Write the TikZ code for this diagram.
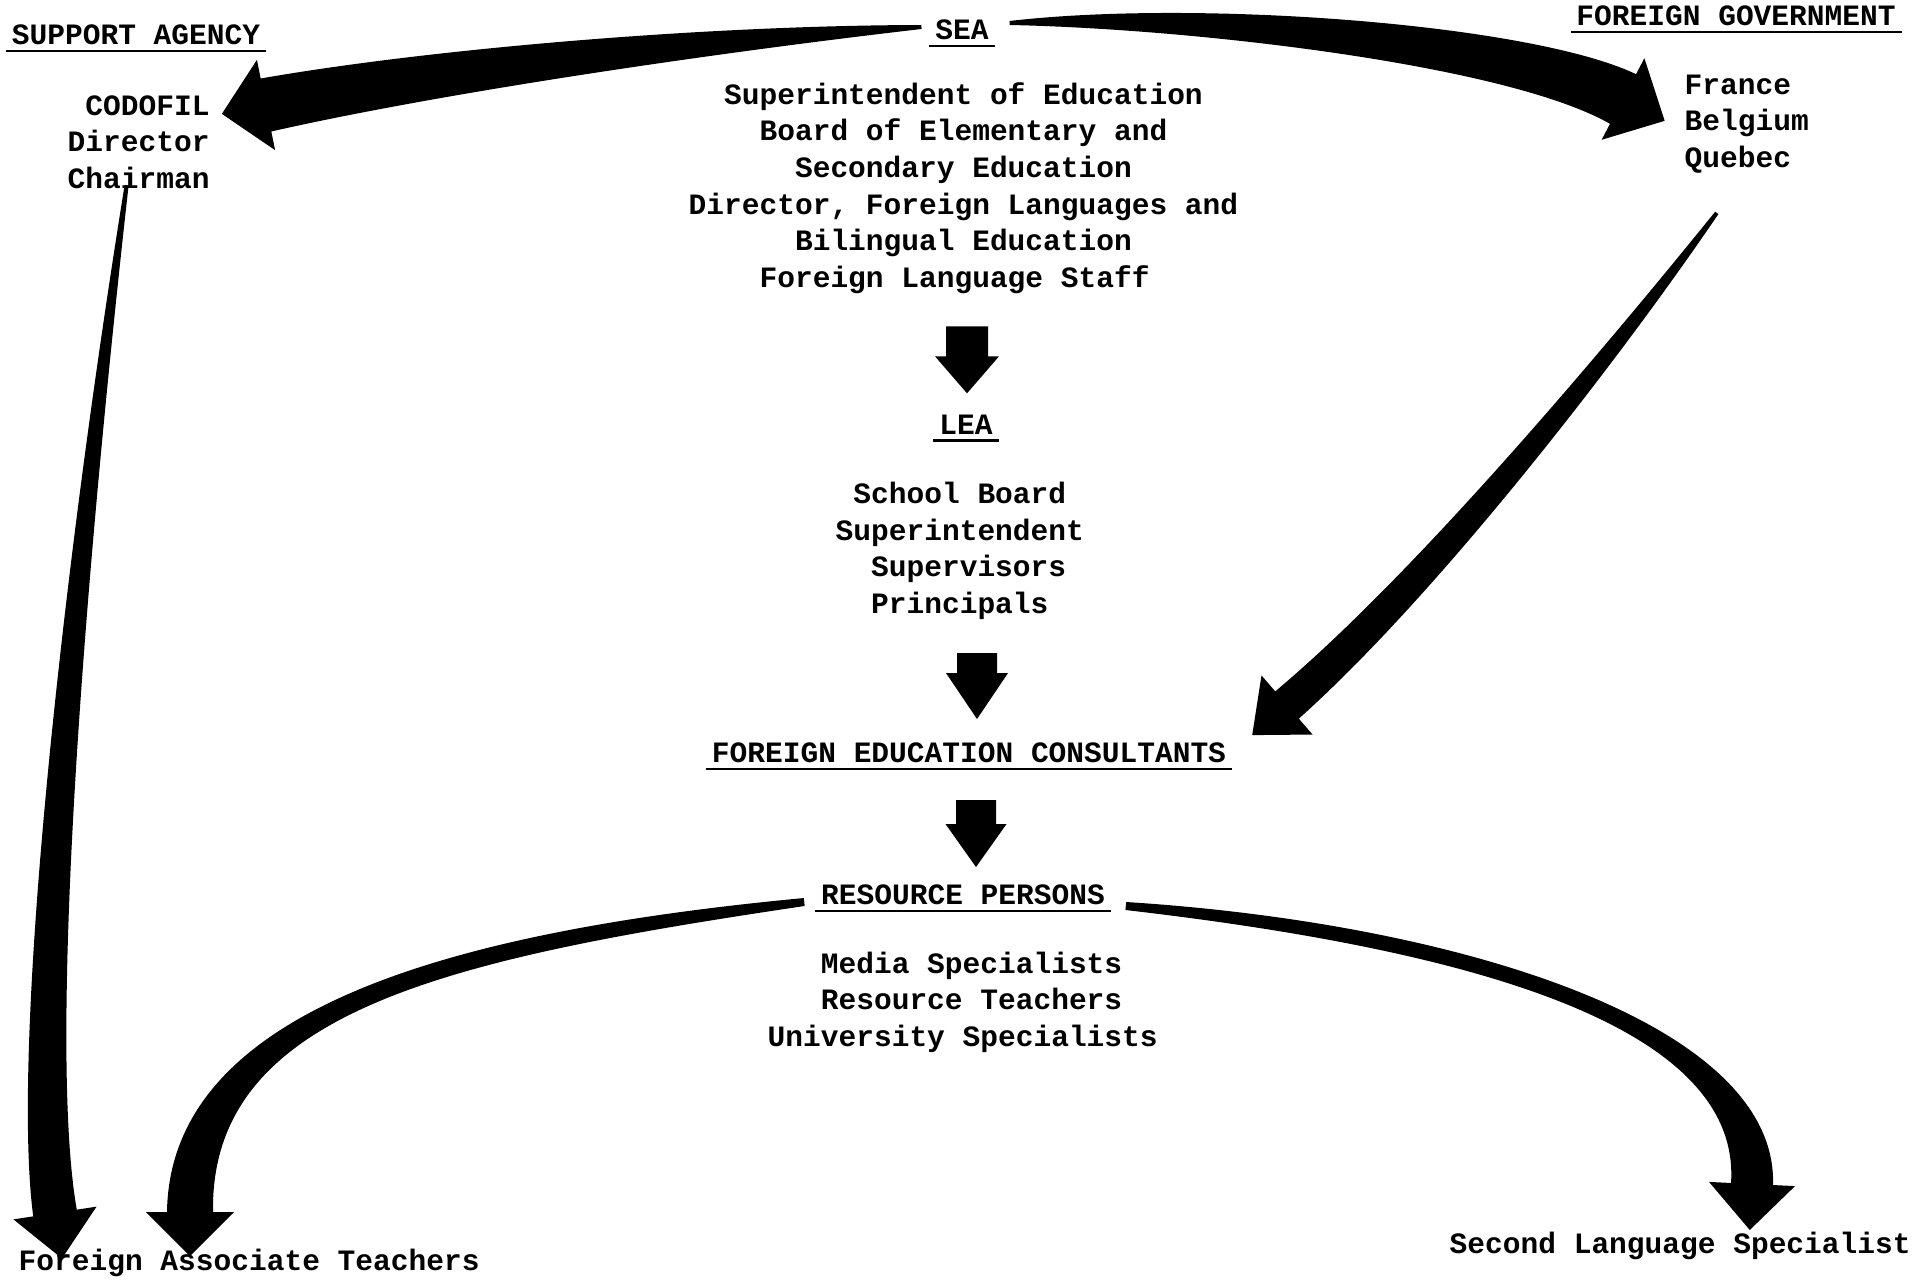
\documentclass[tikz,border=0pt]{standalone}
\usepackage{fontspec}
\newfontfamily\typewriter{Liberation Mono}
\usetikzlibrary{calc}

\newlength\indw
\newcommand\ind[1]{\setlength\indw{0.6em}\hspace*{#1\indw}}

% tapered arrow: tail, control 1, control 2, head base, tail width, end width, head length, head width (in px)
\newcommand\bigarrow[8]{%
  \pgfmathsetmacro\arWa{#5*0.1423}%
  \pgfmathsetmacro\arWb{(#5+#6)/2*0.1423}%
  \pgfmathsetmacro\arWc{(#5+5*#6)/6*0.1423}%
  \pgfmathsetmacro\arWd{#6*0.1423}%
  \pgfmathsetmacro\arHl{#7*0.2845}%
  \pgfmathsetmacro\arHw{#8*0.1423}%
  \fill ($(#1)!\arWa pt!90:(#2)$)
    .. controls ($(#2)!\arWb pt!-90:(#1)$) and ($(#3)!\arWc pt!90:(#4)$) .. ($(#4)!\arWd pt!-90:(#3)$)
    -- ($(#4)!\arHw pt!-90:(#3)$) -- ($(#4)!-\arHl pt!(#3)$) -- ($(#4)!\arHw pt!90:(#3)$)
    -- ($(#4)!\arWd pt!90:(#3)$)
    .. controls ($(#3)!\arWc pt!-90:(#4)$) and ($(#2)!\arWb pt!90:(#1)$) .. ($(#1)!\arWa pt!-90:(#2)$)
    -- cycle;%
}

\begin{document}
\begin{tikzpicture}[x=0.01cm,y=-0.01cm,line join=round,
  font=\typewriter\bfseries\fontsize{8.4pt}{10.4pt}\selectfont,
  heading/.style={inner sep=1.5pt,
    append after command={(\tikzlastnode.south west) edge[line width=0.8pt] (\tikzlastnode.south east)}},
  list/.style={align=left,inner sep=0pt,anchor=west}]
  \useasboundingbox (0,0) rectangle (1919,1282);

  % Headings
  \node[heading] (support) at (136,35) {SUPPORT AGENCY};
  \node[heading] (sea) at (962,30) {SEA};
  \node[heading] (forgov) at (1736,16) {FOREIGN GOVERNMENT};
  \node[heading] (lea) at (966,425) {LEA};
  \node[heading] (fec) at (969,753) {FOREIGN EDUCATION CONSULTANTS};
  \node[heading] (resource) at (963,895) {RESOURCE PERSONS};

  % Member lists
  \node[list] (codofil) at (67,142) {\ind{1}CODOFIL\\Director\\Chairman};
  \node[list] (sealist) at (688,188) {\ind{2}Superintendent of Education\\
    \ind{4}Board of Elementary and\\\ind{6}Secondary Education\\
    Director, Foreign Languages and\\\ind{6}Bilingual Education\\
    \ind{4}Foreign Language Staff};
  \node[list] (countries) at (1684,124) {France\\Belgium\\Quebec};
  \node[list] (lealist) at (835,551) {\ind{1}School Board\\Superintendent\\
    \ind{2}Supervisors\\\ind{2}Principals};
  \node[list] (rplist) at (767,1002) {\ind{3}Media Specialists\\
    \ind{3}Resource Teachers\\University Specialists};
  \node[list] (fat) at (18,1263) {Foreign Associate Teachers};
  \node[list] (sls) at (1449,1246) {Second Language Specialist};

  % Arrow ends
  \coordinate (seaW) at ($(sea.west)+(-8,-3)$);
  \coordinate (seaE) at ($(sea.east)+(15,-7)$);
  \coordinate (codofilIn) at (266,105);
  \coordinate (forgovIn) at (1623,99);
  \coordinate (forgovOut) at ($(countries.south)+(-30,39)$);
  \coordinate (fecIn) at (1287,705);
  \coordinate (codofilOut) at ($(codofil.south)+(-12,-4)$);
  \coordinate (fatIn) at (55,1213);
  \coordinate (resW) at ($(resource.west)+(-11,7)$);
  \coordinate (resE) at ($(resource.east)+(15,11)$);
  \coordinate (fatIn2) at (190,1212);
  \coordinate (slsIn) at (1752,1184);

  % Curved arrows
  \bigarrow{seaW}{700,40}{430,72}{codofilIn}{4}{54}{45}{92}
  \bigarrow{seaE}{1200,14}{1520,45}{forgovIn}{4}{56}{47}{92}
  \bigarrow{forgovOut}{1600,370}{1420,590}{fecIn}{4}{36}{46}{78}
  \bigarrow{codofilOut}{70,600}{30,1050}{fatIn}{4}{44}{46}{84}
  \bigarrow{resW}{450,945}{190,1010}{fatIn2}{8}{46}{44}{88}
  \bigarrow{resE}{1450,935}{1760,1020}{slsIn}{8}{42}{46}{86}

  % Straight arrows down the middle
  \coordinate (d1a) at ($(lea.north)+(1,-83)$);
  \coordinate (d1b) at ($(lea.north)+(1,-53)$);
  \coordinate (d2a) at ($(fec.north)+(8,-84)$);
  \coordinate (d2b) at ($(fec.north)+(8,-64)$);
  \coordinate (d3a) at ($(resource.north)+(13,-79)$);
  \coordinate (d3b) at ($(resource.north)+(13,-55)$);
  \bigarrow{d1a}{$(d1a)!0.33!(d1b)$}{$(d1a)!0.67!(d1b)$}{d1b}{42}{42}{37}{64}
  \bigarrow{d2a}{$(d2a)!0.33!(d2b)$}{$(d2a)!0.67!(d2b)$}{d2b}{40}{40}{46}{62}
  \bigarrow{d3a}{$(d3a)!0.33!(d3b)$}{$(d3a)!0.67!(d3b)$}{d3b}{40}{40}{43}{61}
\end{tikzpicture}
\end{document}
